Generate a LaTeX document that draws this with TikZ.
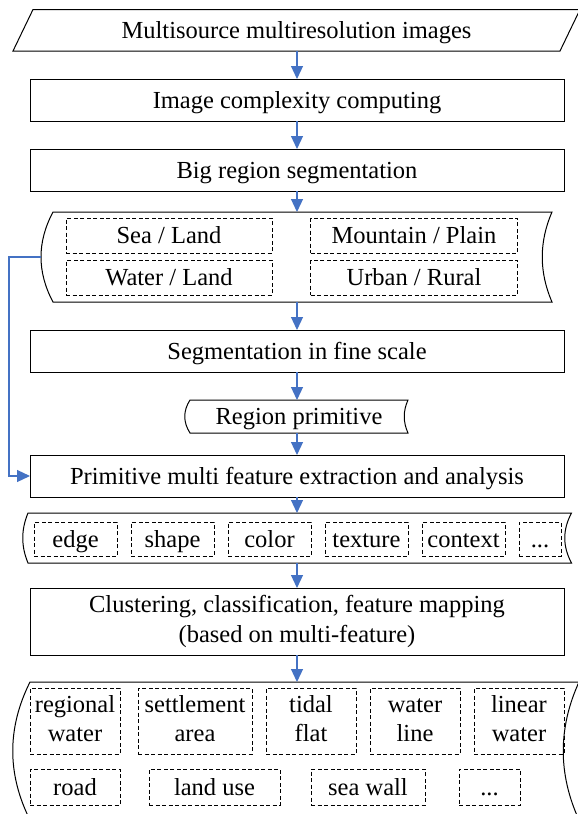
\documentclass[tikz,border=0pt]{standalone}
\usepackage{fontspec}
\setmainfont{Liberation Serif}
\usetikzlibrary{arrows.meta}
\definecolor{arrowblue}{RGB}{68,114,196}
\tikzset{
  oneline/.style={text height=19pt, text depth=3pt},
  box/.style={draw, line width=1pt, minimum width=534pt, minimum height=42pt, inner sep=0pt, outer sep=0pt},
  dbox/.style={draw, line width=0.9pt, dash pattern=on 4pt off 2.5pt, minimum height=35pt, inner sep=0pt, outer sep=0pt, align=center},
  holder/.style={inner sep=0pt, outer sep=0pt},
  flow/.style={draw=arrowblue, line width=1.2pt, -{Triangle[width=12pt,length=13pt]}},
  outline/.style={line width=1pt}
}

\begin{document}
\begin{tikzpicture}[x=1pt, y=-1pt, font=\fontsize{24.5}{29.5}\selectfont]
\useasboundingbox (0,0) rectangle (578,814);
\clip (0,0) rectangle (578,814);

\node[holder, oneline, minimum width=547pt, minimum height=41.5pt] (src) at (296.5,30.25) {Multisource multiresolution images};
\draw[outline] ([xshift=-10pt]src.south west) -- ([xshift=10pt]src.north west) -- ([xshift=10pt]src.north east) -- ([xshift=-10pt]src.south east) -- cycle;

\node[box, oneline] (cplx) at (297,100) {Image complexity computing};
\node[box, oneline] (bigseg) at (297,170) {Big region segmentation};

\node[holder, minimum width=499pt, minimum height=90pt] (regions) at (302.5,257) {};
\draw[outline] (regions.north west) -- (regions.north east) .. controls +(-13,30) and +(-13,-30) .. (regions.south east) -- (regions.south west) .. controls +(-16,-30) and +(-16,30) .. (regions.north west) -- cycle;
\node[dbox, oneline, minimum width=206pt] (sealand) at (169,235.5) {Sea / Land};
\node[dbox, oneline, minimum width=206pt] (waterland) at (169,277.5) {Water / Land};
\node[dbox, oneline, minimum width=207pt] (mountain) at (414,235.5) {Mountain / Plain};
\node[dbox, oneline, minimum width=207pt] (urban) at (414,277.5) {Urban / Rural};

\node[box, oneline] (fineseg) at (297,351) {Segmentation in fine scale};

\node[holder, oneline, minimum width=218pt, minimum height=33pt] (prim) at (299,416.5) {Region primitive};
\draw[outline] (prim.north west) -- (prim.north east) .. controls +(-5,11) and +(-5,-11) .. (prim.south east) -- (prim.south west) .. controls +(-7,-11) and +(-7,11) .. (prim.north west) -- cycle;

\node[box, oneline] (extract) at (297,476) {Primitive multi feature extraction and analysis};

\node[holder, minimum width=543.5pt, minimum height=50pt] (feats) at (299.75,538) {};
\draw[outline] (feats.north west) -- (feats.north east) .. controls +(-9,17) and +(-9,-17) .. (feats.south east) -- (feats.south west) .. controls +(-7,-17) and +(-7,17) .. (feats.north west) -- cycle;
\node[dbox, oneline, minimum width=83pt, minimum height=34pt] (fedge) at (75.5,539) {edge};
\node[dbox, oneline, minimum width=83pt, minimum height=34pt] (fshape) at (172.5,539) {shape};
\node[dbox, oneline, minimum width=83pt, minimum height=34pt] (fcolor) at (269.5,539) {color};
\node[dbox, oneline, minimum width=83pt, minimum height=34pt] (ftexture) at (366.5,539) {texture};
\node[dbox, oneline, minimum width=83pt, minimum height=34pt] (fcontext) at (463.5,539) {context};
\node[dbox, oneline, minimum width=42pt, minimum height=34pt] (fmore) at (540,539) {...};

\node[box, minimum height=67pt, align=center] (clust) at (297,621.5) {\strut Clustering, classification, feature mapping\\\strut (based on multi-feature)};

\node[holder, minimum width=549pt, minimum height=138pt] (outp) at (304.5,751) {};
\draw[outline] (outp.north west) -- (outp.north east) .. controls +(-21,46) and +(-21,-46) .. (outp.south east) -- (outp.south west) .. controls +(-23,-46) and +(-23,46) .. (outp.north west) -- cycle;
\node[dbox, minimum width=90pt, minimum height=66pt] (regwater) at (75,721) {\strut regional\\\strut water};
\node[dbox, minimum width=114pt, minimum height=66pt] (settle) at (195,721) {\strut settlement\\\strut area};
\node[dbox, minimum width=90pt, minimum height=66pt] (tidal) at (311,721) {\strut tidal\\\strut flat};
\node[dbox, minimum width=90pt, minimum height=66pt] (wline) at (415,721) {\strut water\\\strut line};
\node[dbox, minimum width=90pt, minimum height=66pt] (linwater) at (519,721) {\strut linear\\\strut water};
\node[dbox, oneline, minimum width=90pt, minimum height=36pt] (road) at (75,787) {road};
\node[dbox, oneline, minimum width=131pt, minimum height=36pt] (landuse) at (214.5,787) {land use};
\node[dbox, oneline, minimum width=114pt, minimum height=36pt] (seawall) at (368,787) {sea wall};
\node[dbox, oneline, minimum width=61pt, minimum height=36pt] (omore) at (489.5,787) {...};

\draw[flow] (src.south -| cplx.north) -- (cplx.north);
\draw[flow] (cplx.south) -- (bigseg.north);
\draw[flow] (bigseg.south) -- (regions.north -| bigseg.south);
\draw[flow] (regions.south -| fineseg.north) -- (fineseg.north);
\draw[flow] (fineseg.south) -- (prim.north -| fineseg.south);
\draw[flow] (prim.south -| extract.north) -- (extract.north);
\draw[flow] (extract.south) -- (feats.north -| extract.south);
\draw[flow] (feats.south -| clust.north) -- (clust.north);
\draw[flow] (clust.south) -- (outp.north -| clust.south);
\draw[flow] ([xshift=-12pt]regions.west) -- ++(-32,0) |- (extract.west);
\end{tikzpicture}
\end{document}
